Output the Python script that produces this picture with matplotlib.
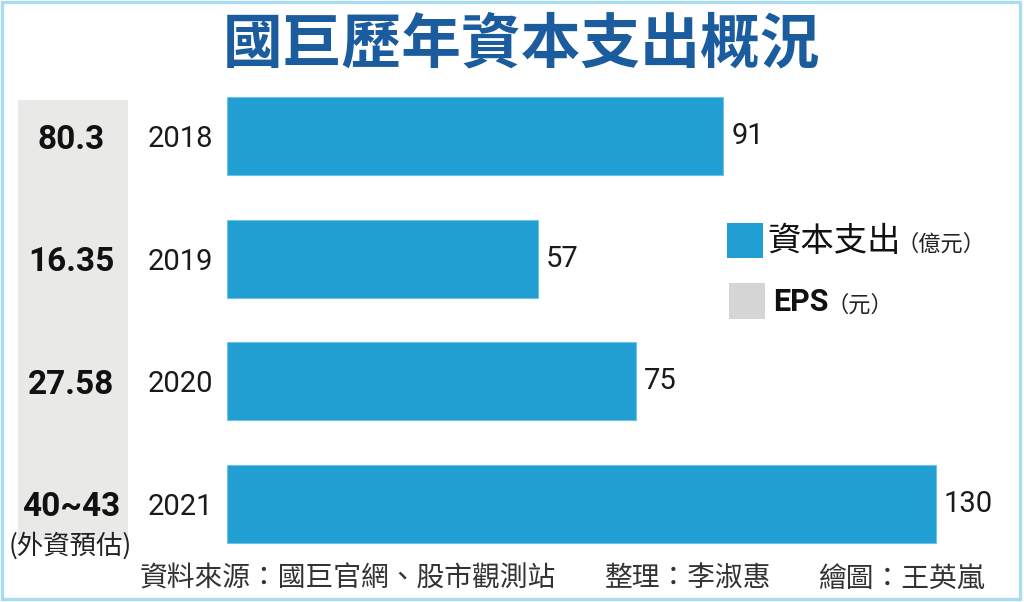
import matplotlib
matplotlib.use("Agg")
import matplotlib.pyplot as plt
from matplotlib.patches import Rectangle
from matplotlib.transforms import blended_transform_factory

# ---- data ----
years = ["2018", "2019", "2020", "2021"]
capex = [91, 57, 75, 130]            # 資本支出(億元)
eps_labels = ["80.3", "16.35", "27.58", "40~43"]   # EPS(元)

title = "國巨歷年資本支出概況"
footer_parts = ["資料來源：國巨官網、股市觀測站", "整理：李淑惠", "繪圖：王英嵐"]

BLUE = "#219fd3"
GRAY_LEG = "#d5d5d5"
GRAY_COL = "#e9e9e7"
TITLE_C = "#1b5c9e"
CJK = ["Noto Sans CJK TC", "DejaVu Sans"]
NUM = ["Roboto", "DejaVu Sans"]

W, H = 1024, 602
fig = plt.figure(figsize=(W / 100, H / 100), dpi=100)
fig.patch.set_facecolor("white")

def fx(px):
    return px / W

def fy(py):
    return 1 - py / H

# border
fig.patches.append(Rectangle((fx(1.5), fy(599)), fx(1019.5) - fx(1.5), fy(1.5) - fy(599),
                             transform=fig.transFigure, fill=False,
                             edgecolor="#a9dbf1", linewidth=2.4, zorder=-2))
# gray EPS column
fig.patches.append(Rectangle((fx(18), fy(540)), fx(128) - fx(18), fy(100) - fy(540),
                             transform=fig.transFigure, facecolor=GRAY_COL,
                             edgecolor="none", zorder=-2))

# main axes
ax = fig.add_axes([fx(227), fy(565), fx(1000) - fx(227), fy(75) - fy(565)])
ax.set_facecolor("none")
ypos = list(range(len(years)))
ax.barh(ypos, capex, height=0.637, color=BLUE, edgecolor="#6fc3e6", linewidth=0.8)
ax.set_xlim(0, 773 / 5.45)
ax.set_ylim(len(years) - 0.5, -0.5)
ax.set_yticks(ypos)
ax.set_yticklabels(years, family=NUM, fontsize=21, color="#1a1a1a")
ax.tick_params(axis="y", length=0, pad=10)
ax.set_xticks([])
for s in ax.spines.values():
    s.set_visible(False)

for i, v in enumerate(capex):
    ax.annotate(str(v), (v, i), xytext=(6, 0), textcoords="offset points",
                ha="left", va="center", family=NUM, fontsize=21, color="#1a1a1a")

# EPS values
tr = blended_transform_factory(fig.transFigure, ax.transData)
for i, e in enumerate(eps_labels):
    ax.text(fx(71), i + 0.03, e, transform=tr, ha="center", va="center",
            family=NUM, fontsize=24, fontweight="bold", color="#111111",
            clip_on=False, zorder=5)
fig.text(fx(70), fy(546), "(外資預估)", ha="center", va="center",
         family=CJK, fontsize=19, color="#222222")

# title
fig.text(fx(522), fy(45), title, ha="center", va="center", family=CJK,
         fontsize=43, fontweight="bold", color=TITLE_C)

# legend
fig.patches.append(Rectangle((fx(727), fy(258)), fx(763) - fx(727), fy(223) - fy(258),
                             transform=fig.transFigure, facecolor=BLUE, edgecolor="none"))
fig.patches.append(Rectangle((fx(729), fy(319)), fx(765) - fx(729), fy(283) - fy(319),
                             transform=fig.transFigure, facecolor=GRAY_LEG, edgecolor="none"))
fig.text(fx(767), fy(241), "資本支出", ha="left", va="center", family=CJK,
         fontsize=24, color="#111111")
fig.text(fx(897), fy(244), "（億元）", ha="left", va="center", family=CJK,
         fontsize=16, color="#222222")
fig.text(fx(773), fy(302), "EPS", ha="left", va="center", family=NUM,
         fontsize=22, fontweight="bold", color="#111111")
fig.text(fx(826), fy(305), "（元）", ha="left", va="center", family=CJK,
         fontsize=16, color="#222222")

# footer
for x, t in zip([140, 605, 818], footer_parts):
    fig.text(fx(x), fy(579), t, ha="left", va="center", family=CJK,
             fontsize=20, color="#333333")

fig.savefig("out.png", dpi=100, facecolor="white")
